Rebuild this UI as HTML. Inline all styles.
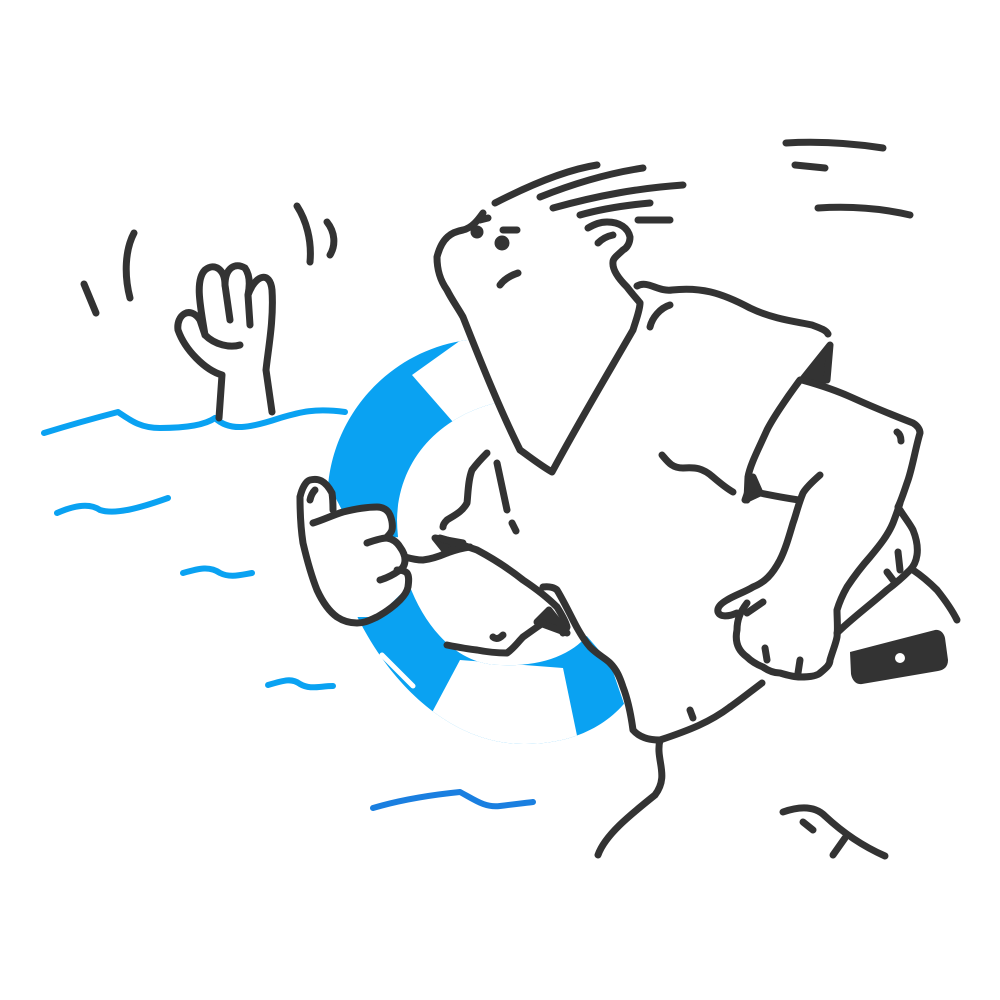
<!DOCTYPE html>
<html><head><meta charset="utf-8"><style>html,body{margin:0;padding:0;background:#fff}svg{display:block}</style></head>
<body>
<svg width="1000" height="1000" viewBox="0 0 1000 1000" xmlns="http://www.w3.org/2000/svg">
<defs>
<clipPath id="ring"><path clip-rule="evenodd" d="M467,340 C380,352 322,430 328,510 C335,620 420,745 525,744 C600,744 640,700 650,650 C660,560 600,380 530,345 C510,338 490,338 467,340 Z M500,402 C440,415 398,460 397,520 C398,590 440,665 500,665 C560,668 600,640 600,600 C600,520 560,400 500,402 Z"/></clipPath>
</defs>
<g fill="none" stroke-linecap="round" stroke-linejoin="round">
<g stroke="#0aa2f2" stroke-width="6">
<path d="M44 433 C70 425 95 418 118 412 C130 420 140 428 160 428 C185 428 205 425 215 418 C230 432 250 428 280 418 C300 412 315 408 345 412"/>
<path d="M57 513 C75 505 90 503 100 510 C115 515 140 508 168 498"/>
<path d="M183 573 C200 568 210 566 220 573 C230 578 240 575 252 573"/>
<path d="M268 685 C285 680 292 678 300 684 C310 690 320 686 333 686"/>
<path d="M373 808 C400 800 430 795 460 792 C475 800 485 808 500 806 C515 804 525 803 533 802" stroke="#1a7fe0"/>
</g>
<g clip-path="url(#ring)" stroke="none">
<rect x="300" y="320" width="380" height="440" fill="#0aa2f2"/>
<path fill="#fff" d="M412 375 L468 335 L505 400 L453 422 Z"/>
<path fill="#fff" d="M428 720 L460 660 L563 668 L580 750 L430 750 Z"/>
</g>
<path d="M382 655 L413 686" stroke="#fff" stroke-width="5"/>
<path fill="#fff" stroke="none" d="M483,213 L437,257 L463,317 L520,450 L552,472 L640,303 L630,237 L600,215 Z"/>
<path fill="#fff" stroke="none" d="M552,472 L640,303 L700,287 L828,334 L920,433 L957,620 L840,660 L660,740 L633,730 L610,663 L573,620 L557,607 L523,580 L477,550 L440,538 L447,520 L487,453 L520,450 Z"/>
<path fill="#fff" stroke="none" d="M440,538 L477,550 L523,580 L567,627 L543,623 L507,653 L447,645 L420,560 Z"/>
<path fill="#fff" stroke="none" d="M300,497 L310,480 L333,493 L343,512 L377,507 L392,515 L392,537 L405,557 L408,587 L377,617 L337,617 L317,590 L303,543 Z"/>
<path fill="#fff" stroke="none" d="M387,537 L435,538 L470,547 L405,560 Z"/>
<g stroke="#333" stroke-width="7">
<path d="M219 418 L222 375 C205 370 185 350 178 330 C176 315 190 305 200 320 L205 335 C200 305 195 280 205 270 C215 262 225 270 225 285 C225 268 235 262 245 268 C250 275 250 285 248 295 C255 275 270 270 272 290 C274 320 268 350 266 370 L272 412"/>
<path d="M205 335 C215 345 230 348 240 345"/>
<path d="M225 285 L230 320"/><path d="M248 295 L250 325"/>
<path d="M84 284 L96 313"/><path d="M134 233 C125 250 124 275 130 298"/>
<path d="M297 206 C306 220 312 240 310 262"/><path d="M327 222 C335 232 336 245 330 255"/>
<path d="M786 143 C820 141 850 143 883 148"/><path d="M795 165 L825 168"/><path d="M818 208 C850 206 880 208 910 215"/>
<path d="M783 812 C800 806 815 806 825 816 C840 830 860 845 885 856"/><path d="M803 822 L813 830"/><path d="M845 838 L833 855"/>
<path d="M495 203 C530 185 565 170 597 165"/>
<path d="M540 197 C575 183 610 173 643 168"/>
<path d="M553 208 C600 195 640 188 683 185"/>
<path d="M580 215 C605 208 628 205 650 203"/>
<path d="M638 220 L670 220"/>
<path d="M483,213 C478,220 472,228 463,230 C452,232 442,237 437,257 C437,270 440,280 447,290 C452,300 458,308 463,317 C480,360 500,410 520,450 C530,457 540,465 552,472 C580,420 610,370 633,330 C636,320 640,310 640,303"/>
<path d="M480 220 L488 218"/>
<circle cx="477" cy="232" r="3" fill="#333"/><circle cx="502" cy="243" r="4" fill="#333"/>
<path d="M503 230 L517 230"/><path d="M500 285 C505 278 512 275 518 273"/>
<path d="M588,228 C595,224 600,222 607,222 C620,222 628,228 630,237 C630,243 627,248 623,250 C618,255 613,258 613,262 C612,270 620,280 627,287 C633,295 638,300 640,303"/>
<path d="M598 243 C603 238 608 236 613 235"/>
<path d="M637,286 C648,280 658,292 672,290 C700,287 720,292 750,308 C775,320 800,322 812,325 C820,328 826,330 828,334"/>
<path d="M650 327 C652 318 660 308 670 305"/>
<path d="M830,345 L802,380 L827,380 Z" fill="#333"/>
<path d="M802,380 C820,385 840,392 853,398 C875,408 895,416 913,423 C918,426 920,430 920,433 C915,450 912,470 907,483 C903,495 900,503 898,507"/>
<path d="M897 432 C900 434 901 437 901 441"/>
<path d="M800,380 C785,400 772,420 767,430 C758,450 750,465 748,477 L747,500"/>
<path d="M753,477 L745,500 L760,493 Z" fill="#333"/>
<path d="M760 493 C775 496 790 499 800 500"/>
<path d="M662 455 C668 462 672 468 683 468 C695 467 703 468 713 477 C720 483 726 488 733 492"/>
<path d="M820,475 C812,482 806,488 803,493 C798,505 796,515 793,523 C788,540 785,550 780,560 C772,575 765,582 753,587 C745,592 735,595 727,600 C720,604 717,608 718,612 C720,617 728,617 737,613"/>
<path d="M747,603 C740,612 737,620 737,630 C735,640 737,650 747,657 C752,662 758,665 763,667 C770,672 775,673 780,673 C790,676 795,677 800,677 C810,677 817,676 820,673 C826,668 830,665 830,660 C833,650 836,643 837,637 C838,628 837,618 837,610 C840,600 843,594 847,587 C855,575 862,566 870,557 C880,545 888,535 893,523 C896,515 898,510 900,503"/>
<path d="M763 602 L747 613"/><path d="M765 648 L767 660"/><path d="M800 660 L798 673"/>
<path d="M900,510 C905,518 910,524 913,530 C917,540 918,548 917,555 C916,562 913,567 910,570 C902,578 895,584 887,590 C870,605 850,620 837,633"/>
<path d="M898 552 L900 570"/><path d="M887 572 L893 580"/>
<path d="M913 570 C925 578 932 585 937 590 C945 600 952 610 957 620"/>
<path d="M762 683 C750 692 740 700 730 707"/>
<path d="M543,587 C550,586 555,588 557,590 C563,600 568,610 573,620 C578,630 584,640 590,647 C598,655 605,658 610,663 C617,670 620,678 623,687 C628,700 631,715 633,730 C640,738 650,740 660,740"/>
<path d="M660 740 C655 760 670 775 655 795 C630 815 605 835 598 855"/>
<path d="M660 740 C690 730 710 722 730 707"/>
<path d="M690 710 L693 718"/>
<path d="M487,453 C480,460 475,466 472,470 C468,480 468,495 467,503 C462,512 455,515 447,520 C444,523 443,525 443,527"/>
<path d="M497 463 L507 510"/><path d="M512 523 L516 531"/>
<path d="M300,497 C302,488 306,481 310,480 C318,478 325,480 332,493 C333,500 333,505 333,510"/>
<path d="M310 500 C311 495 313 492 315 490"/>
<path d="M300,497 C300,515 301,530 303,543 C307,560 311,575 317,590 C323,603 330,612 337,617 C343,621 350,623 357,623 C365,623 370,620 377,617 C386,612 394,606 400,600 C404,596 407,592 408,587 C409,580 409,576 407,573 C404,570 400,570 397,570"/>
<path d="M313,523 C323,520 333,515 343,512 C355,509 365,507 377,507 C383,507 388,510 390,515 C392,520 393,525 392,530 C391,533 389,535 387,537"/>
<path d="M367,543 C373,541 380,538 387,538 C393,539 397,542 400,547 C403,551 405,556 405,560 C405,565 403,568 400,570 C393,575 387,578 380,580"/>
<path d="M405,557 C412,559 418,560 423,560 C432,559 440,556 447,553 C455,550 462,548 470,547"/>
<path d="M435,538 L463,543 L447,553 Z" fill="#333"/>
<path d="M440,538 C455,542 465,546 477,550 C492,558 508,568 523,580 C535,588 548,598 557,607 C562,615 566,622 567,627 C566,630 565,632 563,633"/>
<path d="M537,622 L567,633 L549,610 Z" fill="#333"/>
<path d="M447,645 C457,647 467,649 477,650 C487,652 497,653 507,653 C514,648 518,642 523,637 C530,632 537,627 543,623"/>
<path d="M493 637 C497 640 500 638 503 635"/>
</g>
<path fill="#333" d="M850 652 L935 630 C940 629 944 633 945 638 L948 660 C948 667 944 670 938 671 L862 684 C856 685 852 680 851 674 Z"/>
<circle cx="900" cy="658" r="5" fill="#fff"/>
</g>
</svg>
</body></html>
